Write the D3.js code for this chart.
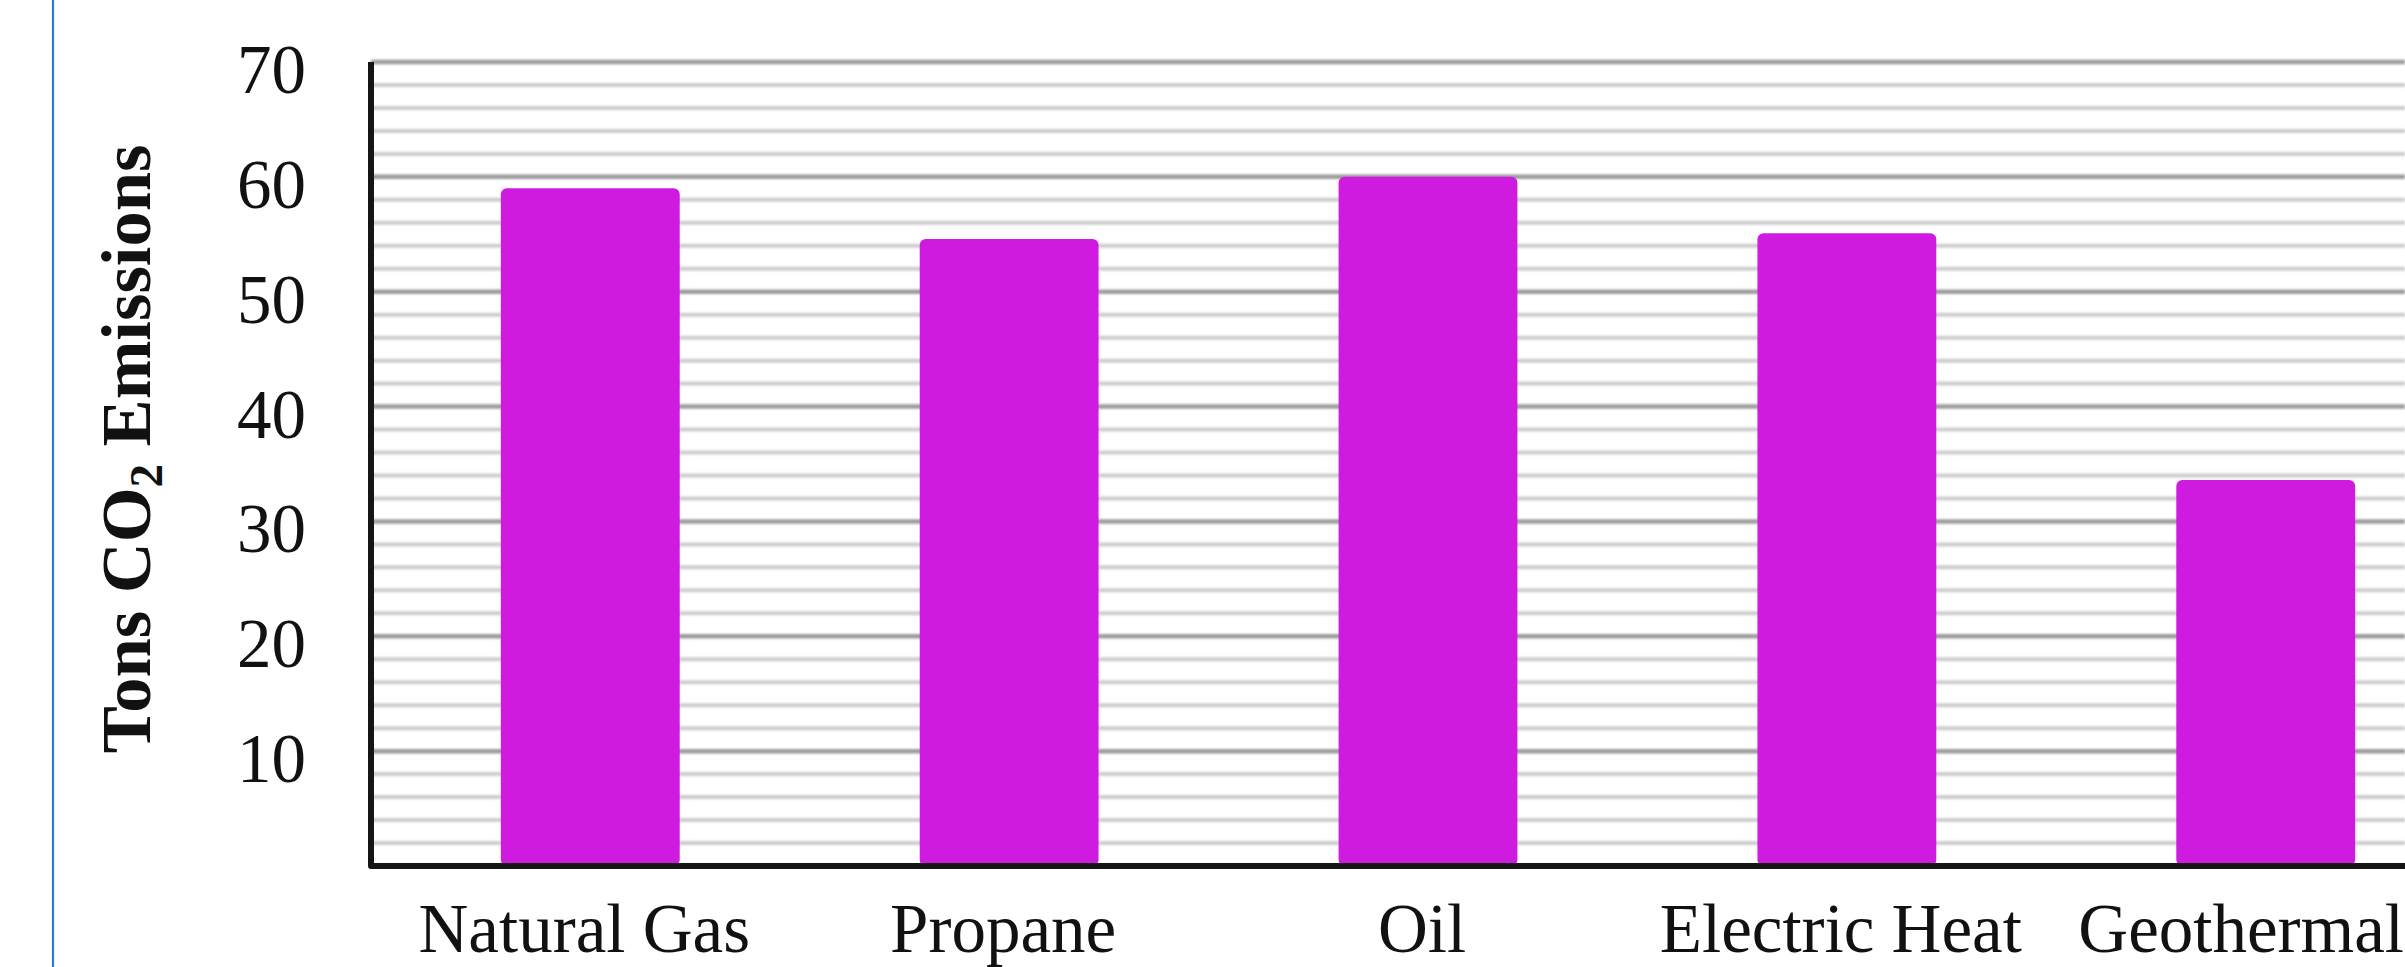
<!DOCTYPE html>
<html>
<head>
<meta charset="utf-8">
<script src="https://cdn.jsdelivr.net/npm/d3@7"></script>
<style>
  html, body { margin: 0; padding: 0; background: #ffffff; overflow: hidden; }
  svg { display: block; }
</style>
</head>
<body>
<svg id="chart" width="2405" height="967"></svg>
<script>
// Heating systems and their CO2 output
const categories = ["Natural Gas", "Propane", "Oil", "Electric Heat", "Geothermal"];
const emissions = [59.0, 54.6, 60.0, 55.1, 33.6];
const yTickValues = [10, 20, 30, 40, 50, 60, 70];
const yTitle = { main: "Tons CO", sub: "2", rest: " Emissions" };

const W = 2405, H = 967;
const svg = d3.select("#chart");
const serif = "'Liberation Serif', 'Times New Roman', Times, serif";

const plot = { left: 371, top: 62, bottom: 866, right: 2485 };

const y = d3.scaleLinear().domain([0, 70]).range([plot.bottom, plot.top]);
const x = d3.scaleBand()
  .domain(categories)
  .range([plot.left, plot.right])
  .paddingInner(0.573)
  .paddingOuter(0.31);

// soft edge for the ruled background
const defs = svg.append("defs");
defs.append("filter").attr("id", "soft")
  .attr("x", "-1%").attr("y", "-50%").attr("width", "102%").attr("height", "200%")
  .append("feGaussianBlur").attr("stdDeviation", 0.9);

// left page margin rule
svg.append("line")
  .attr("x1", 53).attr("x2", 53).attr("y1", 0).attr("y2", H)
  .attr("stroke", "#2a7fd2").attr("stroke-width", 2.2);

// horizontal ruling: minor every 2, major every 10
const minor = y.ticks(35).filter(v => v > 0 && v % 10 !== 0);
const grid = svg.append("g").attr("filter", "url(#soft)");
grid.selectAll("line.minor").data(minor).join("line")
  .attr("class", "minor")
  .attr("x1", plot.left).attr("x2", W)
  .attr("y1", d => y(d)).attr("y2", d => y(d))
  .attr("stroke", "#cdcdcd").attr("stroke-width", 4);
grid.selectAll("line.major").data(yTickValues).join("line")
  .attr("class", "major")
  .attr("x1", plot.left).attr("x2", W)
  .attr("y1", d => y(d)).attr("y2", d => y(d))
  .attr("stroke", "#9c9c9c").attr("stroke-width", 4.5);

// bars
svg.append("g").selectAll("rect").data(categories).join("rect")
  .attr("x", d => x(d))
  .attr("width", x.bandwidth())
  .attr("y", (d, i) => y(emissions[i]))
  .attr("height", (d, i) => y(0) - y(emissions[i]))
  .attr("rx", 6).attr("ry", 6)
  .attr("fill", "#cf1bdf");

// axis frame
svg.append("path")
  .attr("d", `M${plot.left},${plot.top} L${plot.left},${plot.bottom} L${W + 10},${plot.bottom}`)
  .attr("fill", "none")
  .attr("stroke", "#151515")
  .attr("stroke-width", 6)
  .attr("stroke-linejoin", "round");

// y tick labels
svg.append("g").selectAll("text").data(yTickValues).join("text")
  .attr("x", 306)
  .attr("y", d => y(d) + 8)
  .attr("text-anchor", "end")
  .attr("dominant-baseline", "central")
  .attr("font-family", serif)
  .attr("font-size", 69)
  .attr("fill", "#111")
  .text(d => d);

// category labels, nudged left where the last one would run off the page
svg.append("g").selectAll("text").data(categories).join("text")
  .attr("y", 952)
  .attr("text-anchor", "middle")
  .attr("font-family", serif)
  .attr("font-size", 69)
  .attr("fill", "#111")
  .text(d => d)
  .attr("x", function (d) {
    const cx = x(d) + x.bandwidth() / 2 - 6;
    const half = this.getComputedTextLength() / 2;
    return Math.min(cx, W - half - 1);
  });

// y axis title
const title = svg.append("text")
  .attr("transform", `translate(150, 449) rotate(-90)`)
  .attr("text-anchor", "middle")
  .attr("font-family", serif)
  .attr("font-weight", "bold")
  .attr("font-size", 70.5)
  .attr("fill", "#111");
title.append("tspan").text(yTitle.main);
title.append("tspan").attr("font-size", 47).attr("dy", 12).text(yTitle.sub);
title.append("tspan").attr("dy", -12).text(yTitle.rest);
</script>
</body>
</html>
